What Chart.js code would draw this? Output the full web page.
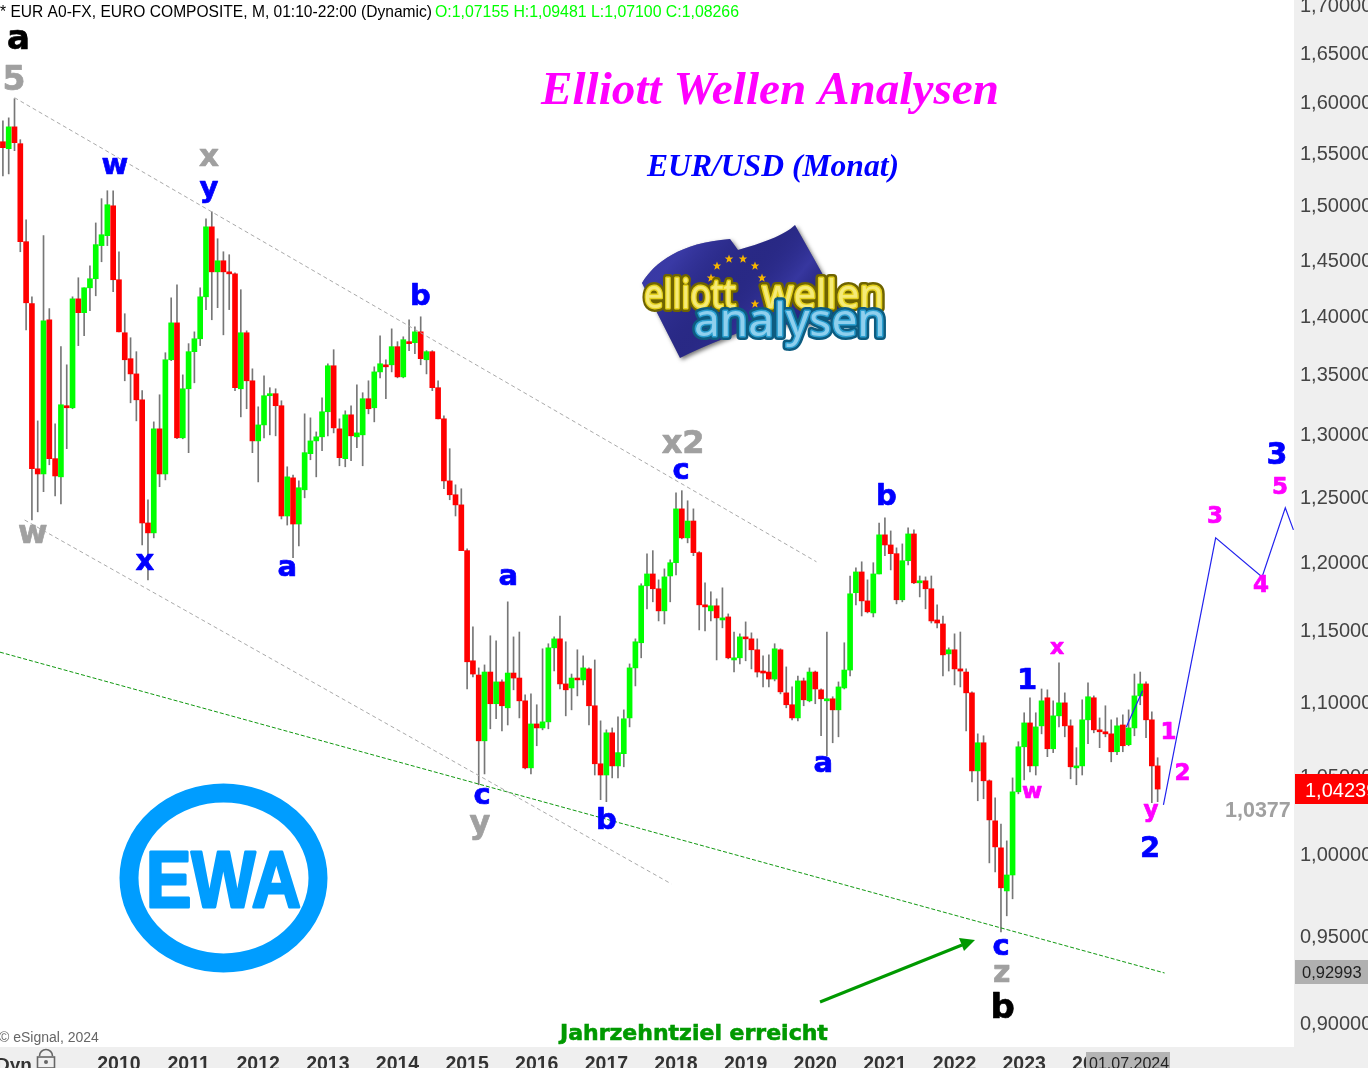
<!DOCTYPE html>
<html><head><meta charset="utf-8">
<style>html,body{margin:0;padding:0;background:#fff}canvas{display:block}</style>
<script src="https://cdn.jsdelivr.net/npm/chart.js@4"></script>
</head><body><canvas id="c" width="1368" height="1068"></canvas>
<script>
const firstYear = 2008, firstMonth = 4, monthSlots = 223;
const open = [
1.5622,1.5554,1.5768,1.5603,1.4676,1.4119,1.2734,1.2693,1.3977,1.2815,
1.2670,1.3246,1.3229,1.4161,1.4039,1.4259,1.4340,1.4640,1.4731,1.5009,
1.4331,1.3864,1.3641,1.3512,1.3295,1.2310,1.2234,1.3056,1.2693,1.3632,
1.3950,1.2983,1.3387,1.3701,1.3812,1.4179,1.4813,1.4402,1.4502,1.4402,
1.4384,1.3387,1.3864,1.3454,1.2958,1.3088,1.3329,1.3346,1.3246,1.2364,
1.2662,1.2302,1.2568,1.2855,1.2958,1.2991,1.3196,1.3581,1.3056,1.2815,
1.3171,1.2991,1.3007,1.3304,1.3229,1.3529,1.3589,1.3589,1.3744,1.3487,
1.3787,1.3778,1.3872,1.3632,1.3701,1.3396,1.3138,1.2638,1.2529,1.2450,
1.2099,1.1294,1.1194,1.0743,1.1215,1.0995,1.1146,1.0967,1.1208,1.1173,
1.1015,1.0563,1.0857,1.0830,1.0871,1.1386,1.1450,1.1132,1.1104,1.1173,
1.1160,1.1237,1.0981,1.0590,1.0516,1.0797,1.0576,1.0657,1.0898,1.1244,
1.1422,1.1836,1.1924,1.1814,1.1652,1.1909,1.2008,1.2419,1.2196,1.2325,
1.2084,1.1696,1.1652,1.1689,1.1586,1.1608,1.1300,1.1315,1.1464,1.1450,
1.1372,1.1222,1.1215,1.1166,1.1372,1.1070,1.0988,1.0898,1.1153,1.1015,
1.1215,1.1091,1.1015,1.1029,1.0953,1.1104,1.1229,1.1785,1.1939,1.1725,
1.1637,1.1924,1.2219,1.2142,1.2076,1.1733,1.2023,1.2226,1.1858,1.1873,
1.1814,1.1586,1.1557,1.1343,1.1372,1.1237,1.1215,1.1070,1.0543,1.0730,
1.0478,1.0219,1.0048,0.9781,0.9879,1.0406,1.0703,1.0864,1.0576,1.0844,
1.1036,1.0690,1.0912,1.1001,1.0844,1.0563,1.0576,1.0885,1.1036,1.0817,
1.0804,1.0790,1.0670,1.0850,1.0717,1.0830,1.1049,1.1132,1.0885,1.0576];
const close = [
1.5564,1.5768,1.5613,1.4676,1.4126,1.2734,1.2693,1.3968,1.2815,1.2677,
1.3254,1.3229,1.4161,1.4039,1.4259,1.4340,1.4649,1.4740,1.5019,1.4331,
1.3872,1.3632,1.3512,1.3295,1.2310,1.2234,1.3056,1.2693,1.3632,1.3950,
1.2983,1.3387,1.3701,1.3812,1.4179,1.4813,1.4402,1.4502,1.4402,1.4384,
1.3396,1.3864,1.3454,1.2958,1.3088,1.3329,1.3346,1.3246,1.2364,1.2670,
1.2302,1.2584,1.2863,1.2958,1.2991,1.3196,1.3581,1.3064,1.2823,1.3171,
1.2999,1.3023,1.3304,1.3221,1.3529,1.3598,1.3572,1.3744,1.3487,1.3804,
1.3770,1.3872,1.3641,1.3701,1.3396,1.3138,1.2638,1.2529,1.2450,1.2099,
1.1287,1.1201,1.0743,1.1215,1.0995,1.1146,1.0981,1.1208,1.1173,1.1015,
1.0563,1.0857,1.0830,1.0871,1.1386,1.1450,1.1132,1.1091,1.1173,1.1160,
1.1244,1.0981,1.0590,1.0516,1.0797,1.0576,1.0664,1.0892,1.1244,1.1429,
1.1836,1.1924,1.1814,1.1652,1.1902,1.2008,1.2419,1.2196,1.2325,1.2084,
1.1696,1.1681,1.1689,1.1601,1.1601,1.1315,1.1315,1.1464,1.1450,1.1372,
1.1215,1.1208,1.1166,1.1379,1.1077,1.0988,1.0898,1.1153,1.1022,1.1215,
1.1097,1.1029,1.1029,1.0953,1.1111,1.1229,1.1777,1.1939,1.1725,1.1645,
1.1924,1.2219,1.2142,1.2076,1.1733,1.2023,1.2226,1.1858,1.1873,1.1814,
1.1579,1.1564,1.1336,1.1372,1.1237,1.1222,1.1070,1.0543,1.0730,1.0478,
1.0225,1.0054,0.9800,0.9879,1.0406,1.0703,1.0864,1.0576,1.0837,1.1015,
1.0690,1.0912,1.1001,1.0844,1.0570,1.0576,1.0885,1.1043,1.0817,1.0804,
1.0790,1.0670,1.0844,1.0710,1.0830,1.1049,1.1132,1.0885,1.0576,1.0424];
const high = [
1.5827,1.5857,1.6048,1.5642,1.4878,1.4179,1.3121,1.4731,1.4075,1.3096,
1.3744,1.3589,1.4179,1.4349,1.4259,1.4457,1.4849,1.5076,1.5151,1.5151,
1.4584,1.4030,1.3821,1.3701,1.3371,1.2490,1.3113,1.3337,1.3692,1.4170,
1.4286,1.3504,1.3770,1.3872,1.4259,1.4887,1.4953,1.4703,1.4584,1.4557,
1.4393,1.4242,1.3881,1.3555,1.3237,1.3495,1.3396,1.3387,1.3287,1.2750,
1.2685,1.2638,1.3179,1.3146,1.3031,1.3312,1.3598,1.3718,1.3138,1.3204,
1.3246,1.3421,1.3354,1.3454,1.3572,1.3838,1.3632,1.3898,1.3787,1.3829,
1.3977,1.3915,1.4003,1.3710,1.3710,1.3454,1.3163,1.2895,1.2607,1.2576,
1.2113,1.1536,1.1244,1.1265,1.1472,1.1436,1.1160,1.1718,1.1464,1.1499,
1.1056,1.1063,1.0988,1.1379,1.1415,1.1464,1.1615,1.1429,1.1201,1.1372,
1.1329,1.1244,1.1300,1.0878,1.0817,1.0830,1.0905,1.0953,1.1272,1.1450,
1.1851,1.2075,1.2099,1.1880,1.1962,1.2030,1.2545,1.2561,1.2482,1.2419,
1.2091,1.1858,1.1792,1.1740,1.1821,1.1630,1.1499,1.1486,1.1572,1.1493,
1.1450,1.1329,1.1336,1.1415,1.1379,1.1251,1.1111,1.1187,1.1173,1.1244,
1.1222,1.1097,1.1499,1.1043,1.1146,1.1422,1.1909,1.1970,1.2015,1.1880,
1.2008,1.2310,1.2349,1.2249,1.2120,1.2150,1.2272,1.2257,1.1909,1.1902,
1.1909,1.1696,1.1615,1.1386,1.1486,1.1499,1.1237,1.1077,1.0790,1.0777,
1.0484,1.0367,1.0199,1.0092,1.0497,1.0737,1.0933,1.1036,1.0933,1.1097,
1.1091,1.1015,1.1279,1.1070,1.0885,1.0697,1.1022,1.1139,1.1049,1.0898,
1.0981,1.0885,1.0898,1.0919,1.0953,1.1201,1.1215,1.1146,1.0940,1.0630];
const low = [
1.5292,1.5311,1.5535,1.4584,1.3889,1.2333,1.2396,1.2553,1.2766,1.2520,
1.2458,1.2895,1.3221,1.3753,1.3838,1.4057,1.4188,1.4493,1.4640,1.4224,
1.3872,1.3454,1.3270,1.3121,1.2142,1.1880,1.2196,1.2592,1.2646,1.3624,
1.2975,1.2975,1.2863,1.3437,1.3753,1.4066,1.3977,1.4083,1.3846,1.4066,
1.3371,1.3154,1.3221,1.2863,1.2630,1.2983,1.3007,1.2999,1.2341,1.2294,
1.2046,1.2135,1.2505,1.2806,1.2670,1.2879,1.2999,1.3023,1.2758,1.2750,
1.2798,1.2903,1.2758,1.3179,1.3113,1.3479,1.3304,1.3529,1.3479,1.3479,
1.3710,1.3684,1.3589,1.3512,1.3371,1.3138,1.2576,1.2490,1.2364,1.2099,
1.1097,1.1180,1.0452,1.0523,1.0824,1.0892,1.0810,1.0850,1.1091,1.0898,
1.0556,1.0523,1.0710,1.0817,1.0824,1.1222,1.1097,1.0912,1.0953,1.1049,
1.1125,1.0850,1.0516,1.0355,1.0342,1.0497,1.0497,1.0570,1.0837,1.1118,
1.1315,1.1667,1.1718,1.1579,1.1557,1.1718,1.1917,1.2188,1.2158,1.2061,
1.1514,1.1507,1.1579,1.1300,1.1529,1.1308,1.1215,1.1272,1.1294,1.1237,
1.1180,1.1111,1.1111,1.1153,1.1063,1.0967,1.0885,1.0878,1.0981,1.1008,
1.0995,1.0777,1.0644,1.0730,1.0770,1.1097,1.1187,1.1696,1.1615,1.1637,
1.1608,1.1924,1.2061,1.1954,1.1703,1.1718,1.1992,1.1851,1.1754,1.1667,
1.1564,1.1529,1.1187,1.1222,1.1125,1.1111,1.0810,1.0471,1.0348,1.0361,
0.9954,0.9898,0.9534,0.9630,0.9733,1.0393,1.0484,1.0536,1.0516,1.0790,
1.0637,1.0664,1.0837,1.0770,1.0491,1.0452,1.0516,1.0724,1.0797,1.0697,
1.0770,1.0603,1.0650,1.0670,1.0710,1.0777,1.0988,1.0764,1.0335,1.0342];
const priceTicks = [0.90,0.95,1.00,1.05,1.10,1.15,1.20,1.25,1.30,1.35,1.40,1.45,1.50,1.55,1.60,1.65,1.70];
const forecastMonths = [200,209,217,221,222.4];
const forecastPrices = [1.0322,1.2196,1.1902,1.2427,1.2257];
const insetMonths = [193.6,196.4];
const insetPrices = [1.0837,1.1084];
const upperMonths = [2.0,140.2];
const upperPrices = [1.6058,1.2015];
const lowerMonths = [3.74,115.2];
const lowerPrices = [1.2333,0.9824];
const supportMonths = [-0.5,200.2];
const supportPrices = [1.1355,0.9292];

const monthLabels = Array.from({length:monthSlots},(_,i)=>{
  const t = firstYear*12+firstMonth+i;
  return Math.floor(t/12)+'-'+String(t%12+1).padStart(2,'0');
});
const UP='#00ff00', DOWN='#ff0000', BAND='#efefef';
const pts=(xs,ys)=>xs.map((x,i)=>({x,y:ys[i]}));
const lineDs=(data,color,width,dash)=>({type:'line',xAxisID:'xl',yAxisID:'y',data,borderColor:color,borderWidth:width,borderDash:dash||[],pointRadius:0,tension:0,fill:false,order:0});

function centered(ctx,t,x,y,stroke){
  const m=ctx.measureText(t);
  const w=m.actualBoundingBoxRight+m.actualBoundingBoxLeft;
  const px=x-w/2+m.actualBoundingBoxLeft, py=y+(m.actualBoundingBoxAscent-m.actualBoundingBoxDescent)/2;
  ctx.fillText(t,px,py);
  if(stroke){ctx.lineWidth=stroke;ctx.strokeText(t,px,py);}
}
const BLUE='#0000ff',GRAY='#a0a0a0',MAG='#ff00ff',BLK='#000000';
const waveLabels=[
['a',18,39,BLK,34],['5',14,77,GRAY,33],['w',115,166,BLUE,29],['x',209,157,GRAY,31],['y',209,192,BLUE,29],
['w',33,534,GRAY,32],['x',145,562,BLUE,29],['a',287,568,BLUE,29],['b',421,294,BLUE,29],['a',508,577,BLUE,29],
['c',482,796,BLUE,29],['y',480,827,GRAY,32],['b',607,818,BLUE,29],['x2',682,441,GRAY,32],['c',681,471,BLUE,29],
['b',887,494,BLUE,29],['a',823,764,BLUE,29],['1',1028,678,BLUE,29],['x',1057,648,MAG,22],['w',1032,792,MAG,22],
['1',1169,730,MAG,23],['2',1182,771,MAG,23],['y',1151,813,MAG,23],['2',1150,846,BLUE,29],['3',1215,514,MAG,23],
['4',1261,583,MAG,23],['5',1280,485,MAG,23],['3',1277,453,BLUE,30],['c',1001,947,BLUE,29],['z',1002,973,GRAY,30],['b',1003,1005,BLK,34]
];
function star(ctx,cx,cy,r){
  ctx.beginPath();
  for(let i=0;i<10;i++){const a=-Math.PI/2+i*Math.PI/5,q=i%2?r*0.42:r;ctx[i?'lineTo':'moveTo'](cx+q*Math.cos(a),cy+q*Math.sin(a));}
  ctx.closePath();ctx.fill();
}
function flagPath(ctx){
  ctx.beginPath();ctx.moveTo(642,283);
  ctx.bezierCurveTo(655,262,680,243,730,239);
  ctx.lineTo(738,250);ctx.bezierCurveTo(760,244,785,235,795,225);
  ctx.lineTo(846,316);ctx.lineTo(800,326);ctx.lineTo(763,322);
  ctx.bezierCurveTo(735,335,705,345,680,358);
  ctx.closePath();
}
function drawFlag(ctx){
  ctx.save();
  ctx.shadowColor='rgba(0,0,0,.55)';ctx.shadowBlur=4;ctx.shadowOffsetX=2;ctx.shadowOffsetY=2;
  flagPath(ctx);ctx.fillStyle='#2a2a86';ctx.fill();ctx.restore();
  ctx.save();flagPath(ctx);ctx.clip();
  const g=ctx.createLinearGradient(690,240,800,330);
  g.addColorStop(0,'rgba(70,70,190,.55)');g.addColorStop(.45,'rgba(30,30,120,.1)');g.addColorStop(.75,'rgba(70,70,190,.45)');g.addColorStop(1,'rgba(20,20,90,.3)');
  ctx.fillStyle=g;ctx.fillRect(630,220,230,150);ctx.restore();
  ctx.fillStyle='#f5b400';
  [[717,266],[729,259],[743,259],[755,266],[762,278],[711,278],[755,304]].forEach(s=>star(ctx,s[0],s[1],4.5));
  ctx.lineJoin='round';
  const word=(t,x,y,w,font,dark,mid,fill)=>{
    ctx.font=font;ctx.textAlign='left';ctx.textBaseline='alphabetic';
    ctx.lineWidth=8;ctx.strokeStyle=dark;ctx.strokeText(t,x,y,w);
    ctx.lineWidth=3;ctx.strokeStyle=mid;ctx.strokeText(t,x,y,w);
    ctx.fillStyle=fill;ctx.fillText(t,x,y,w);
  };
  word('elliott',644,308,92,'40px "Noto Sans"','#6f6400','#e6d21e','#f5ea78');
  word('wellen',762,308,122,'40px "Noto Sans"','#6f6400','#e6d21e','#f5ea78');
  word('analysen',694,336,194,'46px "Noto Sans"','#0d5c80','#2c9fd0','#8fd0ee');
}
function drawEwa(ctx){
  ctx.save();
  ctx.strokeStyle='#009dff';ctx.lineWidth=19;
  ctx.beginPath();ctx.ellipse(223.5,878,94.5,85,0,0,Math.PI*2);ctx.stroke();
  ctx.fillStyle='#009dff';ctx.font='bold 80px "Liberation Sans"';ctx.textAlign='left';ctx.textBaseline='alphabetic';
  ctx.translate(146,907);ctx.scale(0.85,1);
  ctx.lineWidth=3;ctx.lineJoin='round';
  ctx.fillText('EWA',0,0);ctx.strokeText('EWA',0,0);
  ctx.restore();
}
const decor={
  id:'decor',
  beforeDraw(ch){
    const c=ch.ctx;c.save();
    c.fillStyle='#fff';c.fillRect(0,0,1368,1068);
    c.fillStyle=BAND;c.fillRect(1294,0,74,1068);c.fillRect(0,1047,1368,21);
    c.restore();
  },
  afterDraw(ch){
    const c=ch.ctx;c.save();
    c.textAlign='left';c.textBaseline='alphabetic';
    c.font='17px "Liberation Sans"';
    c.fillStyle='#000';c.fillText('* EUR A0-FX, EURO COMPOSITE, M, 01:10-22:00 (Dynamic)',0,17,432);
    c.fillStyle='#00ff00';c.fillText('O:1,07155 H:1,09481 L:1,07100 C:1,08266',435,17,304);
    c.font='14px "Liberation Sans"';c.fillStyle='#666';c.fillText('© eSignal, 2024',-1,1042);
    c.font='bold 19px "Liberation Sans"';c.fillStyle='#333';c.fillText('Dyn',-4,1071);
    c.strokeStyle='#666';c.lineWidth=1.6;c.beginPath();c.arc(46,1056,6.5,Math.PI,0);c.stroke();
    c.strokeRect(37.5,1057,17,11);c.fillStyle='#666';c.beginPath();c.arc(46,1062,2,0,7);c.fill();
    c.fillStyle='#b4b4b4';c.fillRect(1086,1052,84,16);
    c.fillStyle='#222';c.font='16px "Liberation Sans"';c.fillText('01.07.2024',1089,1069);
    c.fillStyle='#ff0000';c.fillRect(1295,774,73,30);
    c.fillStyle='#fff';c.font='20px "Liberation Sans"';c.fillText('1,04239',1305,797);
    c.fillStyle='#b0b0b0';c.fillRect(1295,960,73,24);
    c.fillStyle='#222';c.font='16.5px "Liberation Sans"';c.fillText('0,92993',1302,978);
    c.fillStyle='#a0a0a0';c.font='bold 21.5px "Liberation Sans"';c.fillText('1,0377',1225,817);
    c.fillStyle='#ff00ff';c.font='italic bold 47.2px "Liberation Serif"';c.fillText('Elliott Wellen Analysen',541,104);
    c.fillStyle='#0000ff';c.font='italic bold 32px "Liberation Serif"';c.fillText('EUR/USD (Monat)',647,176,252);
    c.fillStyle='#009900';c.strokeStyle='#009900';c.font='bold 22px "DejaVu Sans"';c.fillText('Jahrzehntziel erreicht',560,1040,268);
    c.lineWidth=0.6;c.strokeText('Jahrzehntziel erreicht',560,1040,268);
    c.lineWidth=3;c.beginPath();c.moveTo(820,1002);c.lineTo(962,945);c.stroke();
    c.beginPath();c.moveTo(975,940);c.lineTo(959,938);c.lineTo(964,951);c.closePath();c.fill();
    c.lineJoin='round';
    waveLabels.forEach(l=>{c.fillStyle=l[3];c.strokeStyle=l[3];c.font='bold '+l[4]+'px "DejaVu Sans"';centered(c,l[0],l[1],l[2],0.7);});
    c.restore();
    drawFlag(c);drawEwa(c);
  }
};
new Chart(document.getElementById('c'),{
  type:'bar',
  data:{labels:monthLabels,datasets:[
    {label:'Wick',data:high.map((h,i)=>[low[i],h]),backgroundColor:'#777777',borderWidth:0,barThickness:1,grouped:false,order:3},
    {label:'Body',data:open.map((o,i)=>[o,close[i]]),backgroundColor:open.map((o,i)=>close[i]>=o?UP:DOWN),borderWidth:0,barThickness:5,grouped:false,order:2},
    lineDs(pts(upperMonths,upperPrices),'#aaaaaa',1,[4,3]),
    lineDs(pts(lowerMonths,lowerPrices),'#aaaaaa',1,[4,3]),
    lineDs(pts(supportMonths,supportPrices),'#119911',1,[4,2]),
    lineDs(pts(forecastMonths,forecastPrices),'#2222ee',1.2),
    lineDs(pts(insetMonths,insetPrices),'#2222ee',1.2)
  ]},
  options:{
    responsive:false,animation:false,devicePixelRatio:1,
    layout:{padding:0},
    plugins:{legend:{display:false},tooltip:{enabled:false},title:{display:false}},
    scales:{
      x:{type:'category',offset:true,grid:{display:false,drawTicks:false},border:{display:false},
        afterFit(s){s.height=21;s.paddingLeft=0;s.paddingRight=0;},
        ticks:{autoSkip:false,maxRotation:0,minRotation:0,padding:6,color:'#333',font:{family:'"Liberation Sans"',size:19.5,weight:'bold'},
          callback(v){const l=this.getLabelForValue(v);const y=+l.slice(0,4);return (l.endsWith('-01')&&y>=2010&&y<=2024)?String(y):'';}}},
      xl:{type:'linear',display:false,offset:false,bounds:'data',min:-0.5,max:monthSlots-0.5},
      y:{type:'logarithmic',position:'right',bounds:'data',min:0.8872,max:1.7069,grid:{display:false,drawTicks:false},border:{display:false},
        afterFit(s){s.width=74;s.paddingTop=0;s.paddingBottom=0;},
        afterBuildTicks(s){s.ticks=priceTicks.map(v=>({value:v}));},
        ticks:{autoSkip:false,padding:6,color:'#444',font:{family:'"Liberation Sans"',size:20},crossAlign:'near',
          callback(v){return Number(v).toFixed(5).replace('.',',');}}}
    }
  },
  plugins:[decor]
});
</script></body></html>
